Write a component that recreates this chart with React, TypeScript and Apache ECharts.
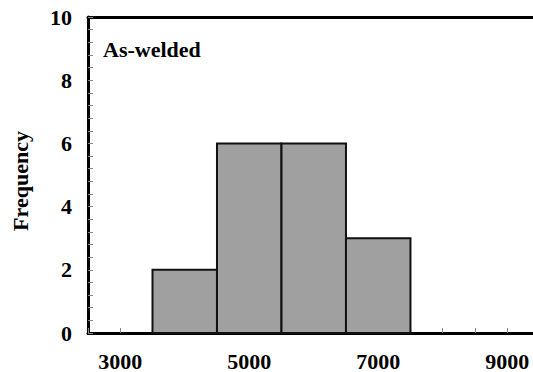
import React, { useEffect, useRef } from "react";
import * as echarts from "echarts";

const binStarts = [3500, 4500, 5500, 6500];
const binEnds = [4500, 5500, 6500, 7500];
const frequencies = [2, 6, 6, 3];
const xLabelValues = [3000, 5000, 7000, 9000];
const panelLabel = "As-welded";
const yAxisTitle = "Frequency";

const FONT = "'Liberation Serif', 'Times New Roman', serif";

export default function App() {
  const ref = useRef<HTMLDivElement>(null);
  useEffect(() => {
    if (!ref.current) return;
    const chart = echarts.init(ref.current, null, { renderer: "svg" });
    const data = binStarts.map((s, i) => [s, binEnds[i], frequencies[i]]);
    chart.setOption({
      animation: false,
      backgroundColor: "#fff",
      grid: {
        left: 88,
        right: 0,
        top: 17,
        bottom: 38,
      },
      xAxis: [
        {
          type: "value",
          min: 2500,
          max: 9400,
          interval: 500,
          splitLine: { show: false },
          axisLine: { lineStyle: { color: "#000", width: 3 } },
          axisTick: { inside: true, length: 5, lineStyle: { color: "#888", width: 1 } },
          axisLabel: {
            margin: 17,
            color: "#000",
            fontFamily: FONT,
            fontWeight: "bold",
            fontSize: 22,
            showMinLabel: true,
            showMaxLabel: false,
            formatter: (v: number) => (xLabelValues.includes(v) ? String(v) : ""),
          },
        },
        {
          type: "value",
          position: "top",
          min: 2500,
          max: 9400,
          splitLine: { show: false },
          axisLine: { show: true, lineStyle: { color: "#000", width: 3 } },
          axisTick: { show: false },
          axisLabel: { show: false },
        },
      ],
      yAxis: {
        type: "value",
        min: 0,
        max: 10,
        interval: 2,
        splitLine: { show: false },
        axisLine: { lineStyle: { color: "#000", width: 3 } },
        axisTick: { inside: true, length: 5, lineStyle: { color: "#888", width: 1 } },
        minorTick: { show: true, splitNumber: 5, length: 5, lineStyle: { color: "#888", width: 1 } },
        axisLabel: {
          margin: 16,
          color: "#000",
          fontFamily: FONT,
          fontWeight: "bold",
          fontSize: 22,
        },
      },
      graphic: [
        {
          type: "text",
          left: 103,
          top: 38,
          style: { text: panelLabel, fill: "#000", font: `bold 22px ${FONT}` },
        },
        {
          type: "text",
          x: 20,
          y: 181,
          rotation: Math.PI / 2,
          style: {
            text: yAxisTitle,
            fill: "#000",
            font: `bold 22px ${FONT}`,
            align: "center",
            verticalAlign: "middle",
          },
        },
      ],
      series: [
        {
          type: "custom",
          data,
          encode: { x: [0, 1], y: 2 },
          renderItem: (params: any, api: any) => {
            const p0 = api.coord([api.value(0), api.value(2)]);
            const p1 = api.coord([api.value(1), 0]);
            return {
              type: "rect",
              shape: { x: p0[0], y: p0[1], width: p1[0] - p0[0], height: p1[1] - p0[1] },
              style: { fill: "#a0a0a0", stroke: "#111", lineWidth: 2 },
            };
          },
        },
      ],
    });
    return () => chart.dispose();
  }, []);
  return <div ref={ref} style={{ width: 533, height: 372, position: "absolute", left: 0, top: 0 }} />;
}
